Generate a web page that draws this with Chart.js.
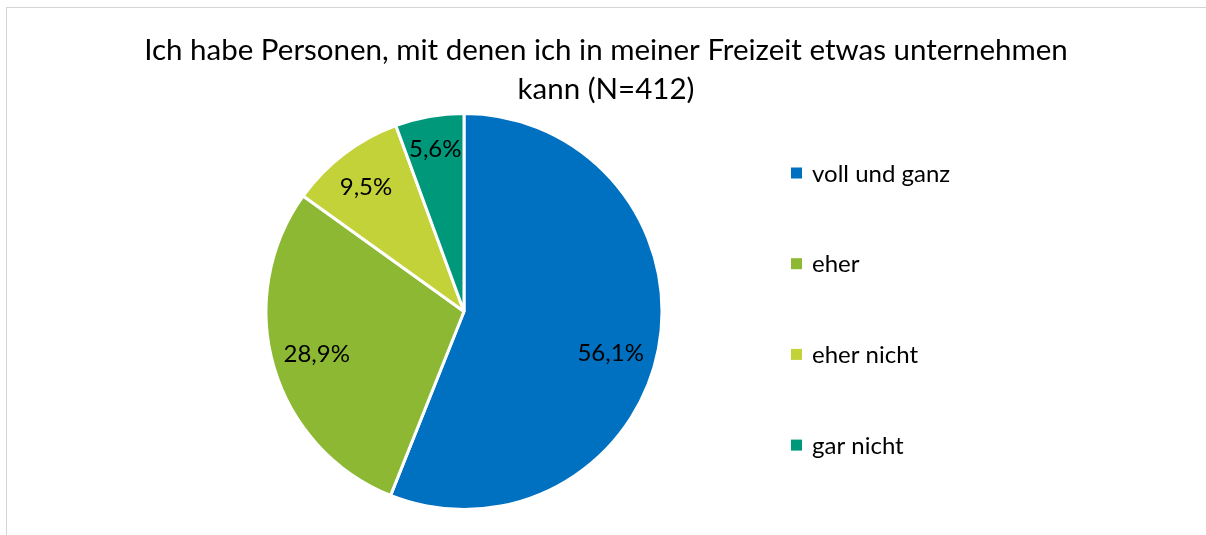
<!DOCTYPE html>
<html>
<head>
<meta charset="utf-8">
<script src="https://cdn.jsdelivr.net/npm/chart.js@4"></script>
<style>
  html, body { margin: 0; background: #fff; overflow: hidden; }
  #frame {
    position: absolute; left: 6px; top: 7px;
    width: 1199px; height: 527px;
    border-top: 1px solid #d4d4d4; border-left: 1px solid #d4d4d4;
  }
  canvas { display: block; }
</style>
</head>
<body>
<div id="frame"><canvas id="chart" width="1199" height="527"></canvas></div>
<script>
const titleLines = ['Ich habe Personen, mit denen ich in meiner Freizeit etwas unternehmen', 'kann (N=412)']
const categories = ['voll und ganz', 'eher', 'eher nicht', 'gar nicht']
const shares = [56.1, 28.9, 9.5, 5.6]

const sliceColors = ['#0070c0', '#8cb833', '#c4d23a', '#00987a']
const FONT = 'Lato, "Open Sans", sans-serif'

const pct = v => v.toFixed(1).replace('.', ',') + '%'

// percentages inside the slices, placed roughly where Excel's "best fit" puts them
const sliceLabels = {
  id: 'sliceLabels',
  afterDatasetsDraw(chart, args, opts) {
    const ctx = chart.ctx
    const arcs = chart.getDatasetMeta(0).data
    ctx.save()
    ctx.font = `${opts.size}px ${FONT}`
    ctx.fillStyle = '#000'
    ctx.textAlign = 'center'
    ctx.textBaseline = 'middle'
    arcs.forEach((arc, i) => {
      const mid = (arc.startAngle + arc.endAngle) / 2 + opts.nudge[i] * Math.PI / 180
      const r = arc.outerRadius * opts.radius[i]
      ctx.fillText(pct(shares[i]), arc.x + Math.cos(mid) * r, arc.y + Math.sin(mid) * r)
    })
    ctx.restore()
  }
}

// title + legend, drawn by hand so the pie can sit off-centre like in the original
const frameText = {
  id: 'frameText',
  afterDraw(chart, args, opts) {
    const ctx = chart.ctx
    ctx.save()
    ctx.fillStyle = '#000'
    ctx.textBaseline = 'middle'

    ctx.font = `${opts.titleSize}px ${FONT}`
    ctx.textAlign = 'center'
    titleLines.forEach((line, i) => ctx.fillText(line, opts.titleX, opts.titleY + i * opts.titleGap))

    ctx.font = `${opts.legendSize}px ${FONT}`
    ctx.textAlign = 'left'
    const colors = chart.data.datasets[0].backgroundColor
    chart.data.labels.forEach((label, i) => {
      const y = opts.legendY + i * opts.legendGap
      ctx.fillStyle = colors[i]
      ctx.fillRect(opts.legendX, y - 5.5, 11, 11)
      ctx.fillStyle = '#000'
      ctx.fillText(label, opts.legendX + 21, y + 1)
    })
    ctx.restore()
  }
}

new Chart(document.getElementById('chart'), {
  type: 'pie',
  data: {
    labels: categories,
    datasets: [{
      data: shares,
      backgroundColor: sliceColors,
      borderColor: '#fff',
      borderWidth: 3,
      hoverOffset: 0
    }]
  },
  options: {
    responsive: false,
    animation: false,
    layout: { padding: { top: 104, bottom: 24, left: 100, right: 385 } },
    plugins: {
      legend: { display: false },
      title: { display: false },
      tooltip: { enabled: false },
      sliceLabels: { size: 24, radius: [0.77, 0.775, 0.8, 0.83], nudge: [5, 0, -1, 0] },
      frameText: {
        titleSize: 29.5, titleX: 599, titleY: 42, titleGap: 39,
        legendSize: 24, legendX: 784, legendY: 165, legendGap: 90.7
      }
    }
  },
  plugins: [sliceLabels, frameText]
})
</script>
</body>
</html>
